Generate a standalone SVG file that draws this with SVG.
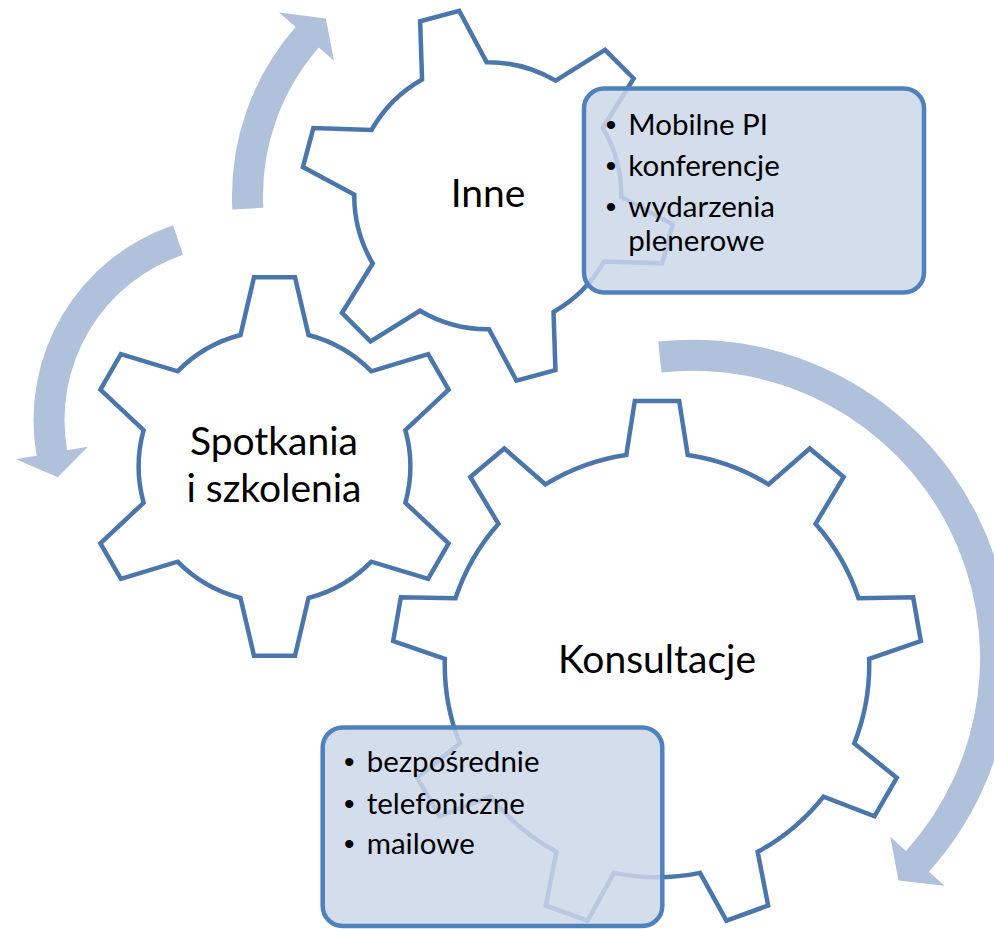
<svg xmlns="http://www.w3.org/2000/svg" width="994" height="929" viewBox="0 0 994 929">
<style>
.arrow{fill:#B0C1DC;stroke:none}
.gear{fill:#FFFFFF;stroke:#4A76AC;stroke-width:4.5;stroke-linejoin:miter}
.box{fill:#CDD7E9;fill-opacity:0.85;stroke:#4F81BD;stroke-width:4.5}
.lbl{font-family:Lato,"Open Sans",sans-serif;font-size:39px;fill:#000;text-anchor:middle}
.itm{font-family:Lato,"Open Sans",sans-serif;font-size:29.5px;fill:#000}
.bul{font-family:"Liberation Sans",Arial,sans-serif;font-size:30px;fill:#000;text-anchor:middle}
</style>
<rect width="994" height="929" fill="#FFFFFF"/>
<g id="connectors">
<path class="arrow" d="M 232.35 209.40 A 256 256 0 0 1 295.61 27.04 L 279.08 12.52 L 325.83 18.40 L 333.94 60.70 L 318.91 47.50 A 225 225 0 0 0 263.31 207.78 Z"/>
<path class="arrow" d="M 173.11 225.35 A 205.5 205.5 0 0 0 36.62 455.69 L 15.94 459.33 L 57.79 477.13 L 87.83 446.66 L 67.15 450.30 A 174.5 174.5 0 0 1 183.05 254.71 Z"/>
<path class="arrow" d="M 658.20 341.56 A 318.5 318.5 0 0 1 928.92 871.73 L 944.50 885.81 L 898.47 880.52 L 890.34 836.87 L 905.92 850.95 A 287.5 287.5 0 0 0 661.55 372.38 Z"/>
</g>
<g id="gear-spotkania">
<path class="gear" d="M 240.5 335 L 254 277.3 L 295 277.3 L 308.5 335 A 135.8 135.8 0 0 1 371.38 371.31 L 428.10 354.15 L 448.60 389.65 L 405.38 430.20 A 135.8 135.8 0 0 1 405.38 502.81 L 448.60 543.35 L 428.10 578.85 L 371.38 561.70 A 135.8 135.8 0 0 1 308.5 598 L 295 655.7 L 254 655.7 L 240.5 598 A 135.8 135.8 0 0 1 177.62 561.70 L 120.90 578.85 L 100.40 543.35 L 143.62 502.81 A 135.8 135.8 0 0 1 143.62 430.20 L 100.40 389.65 L 120.90 354.15 L 177.62 371.31 A 135.8 135.8 0 0 1 240.5 335 Z"/>
<text class="lbl" x="274" y="455">Spotkania</text>
<text class="lbl" x="274" y="501.7">i szkolenia</text>
</g>
<g id="gear-inne">
<path class="gear" d="M 422.07 79.45 L 420.15 21.27 L 459.17 10.81 L 486.60 62.16 A 133.5 133.5 0 0 1 555.61 80.65 L 605.04 49.89 L 633.61 78.46 L 602.85 127.89 A 133.5 133.5 0 0 1 621.34 196.90 L 672.69 224.33 L 662.23 263.35 L 604.05 261.43 A 133.5 133.5 0 0 1 553.53 311.95 L 555.45 370.13 L 516.43 380.59 L 489.00 329.24 A 133.5 133.5 0 0 1 419.99 310.75 L 370.56 341.51 L 341.99 312.94 L 372.75 263.51 A 133.5 133.5 0 0 1 354.26 194.50 L 302.91 167.07 L 313.37 128.05 L 371.55 129.97 A 133.5 133.5 0 0 1 422.07 79.45 Z"/>
<text class="lbl" x="488" y="207.3">Inne</text>
</g>
<g id="gear-konsultacje">
<path class="gear" d="M 626.3 455 L 634.8 401 L 679.2 401 L 687.7 455 A 212.2 212.2 0 0 1 768.47 484.40 L 809.69 448.49 L 843.70 477.03 L 815.50 523.87 A 212.2 212.2 0 0 1 858.48 598.30 L 913.13 597.29 L 920.84 641.02 L 869.14 658.77 A 212.2 212.2 0 0 1 854.22 743.41 L 896.73 777.77 L 874.53 816.23 L 823.52 796.59 A 212.2 212.2 0 0 1 757.67 851.84 L 768.15 905.49 L 726.43 920.67 L 699.98 872.84 A 212.2 212.2 0 0 1 614.03 872.84 L 587.57 920.67 L 545.85 905.49 L 556.33 851.84 A 212.2 212.2 0 0 1 490.48 796.59 L 439.47 816.23 L 417.27 777.77 L 459.78 743.41 A 212.2 212.2 0 0 1 444.86 658.77 L 393.16 641.02 L 400.87 597.29 L 455.52 598.30 A 212.2 212.2 0 0 1 498.50 523.87 L 470.30 477.03 L 504.31 448.49 L 545.53 484.40 A 212.2 212.2 0 0 1 626.3 455 Z"/>
<text class="lbl" x="657" y="673.3">Konsultacje</text>
</g>
<g id="box-inne">
<rect class="box" x="584" y="88.5" width="340" height="204" rx="20" ry="20"/>
<text class="bul" x="611" y="135">•</text>
<text class="itm" x="628.3" y="135">Mobilne PI</text>
<text class="bul" x="611" y="175.7">•</text>
<text class="itm" x="628.3" y="175.7">konferencje</text>
<text class="bul" x="611" y="216.7">•</text>
<text class="itm" x="628.3" y="216.7">wydarzenia</text>
<text class="itm" x="628.3" y="250.7">plenerowe</text>
</g>
<g id="box-konsultacje">
<rect class="box" x="322.7" y="727.5" width="339.6" height="198.5" rx="20" ry="20"/>
<text class="bul" x="349.3" y="772.3">•</text>
<text class="itm" x="366.7" y="772.3">bezpośrednie</text>
<text class="bul" x="349.3" y="814">•</text>
<text class="itm" x="366.7" y="814">telefoniczne</text>
<text class="bul" x="349.3" y="854">•</text>
<text class="itm" x="366.7" y="854">mailowe</text>
</g>
</svg>
